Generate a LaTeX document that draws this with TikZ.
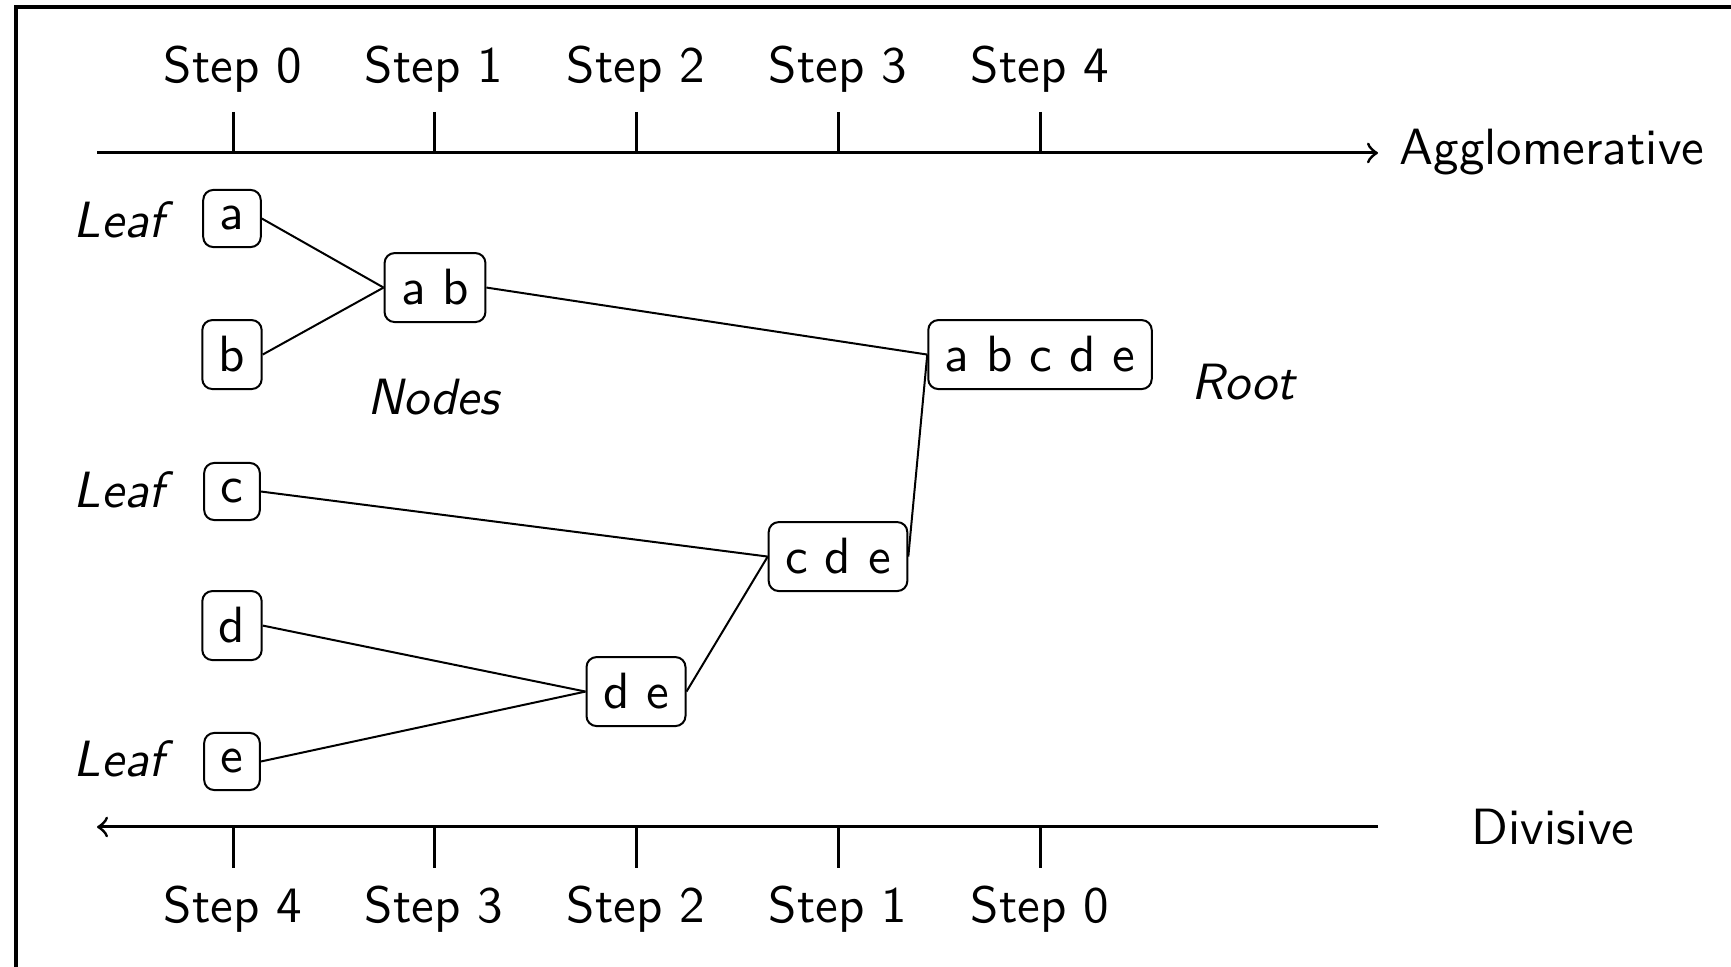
\documentclass[tikz,border=0pt]{standalone}
\usetikzlibrary{arrows}
\begin{document}
\begin{tikzpicture}[x=0.2pt,y=-0.2pt,
  every node/.style={font=\fontsize{10.2}{12}\selectfont\sffamily},
  clus/.style={draw, rounded corners=2pt, inner sep=3.3pt, line width=0.4pt},
  lbl/.style={font=\fontsize{10.2}{12}\selectfont\sffamily\itshape, anchor=base},
  steplbl/.style={anchor=base},
  axis/.style={line width=0.6pt},
  tick/.style={line width=0.6pt},
  link/.style={line width=0.4pt}]
\useasboundingbox (0,0) rectangle (1731,967);
% frame (top and left visible)
\draw[line width=0.7pt] (16,975) -- (16,7) -- (1740,7);
% axes
\coordinate (t0) at (97,153);
\coordinate (t1) at (1378,153);
\coordinate (b0) at (1378,827);
\coordinate (b1) at (97,827);
\draw[axis,->] (t0) -- (t1);
\draw[axis,->] (b0) -- (b1);
\node[anchor=base west] (agg) at (1382,165) {Agglomerative};
\node[anchor=base] (div) at (1553,845) {Divisive};
% ticks and step labels
\foreach \x/\i/\j in {233/0/4, 434/1/3, 636/2/2, 838/3/1, 1040/4/0}{
  \coordinate (tt\i) at (\x,112);
  \coordinate (tb\i) at (\x,153);
  \draw[tick] (tt\i) -- (tb\i);
  \node[steplbl] (st\i) at (\x,83) {Step \i};
  \coordinate (bt\i) at (\x,827);
  \coordinate (bb\i) at (\x,868);
  \draw[tick] (bt\i) -- (bb\i);
  \node[steplbl] (sb\i) at (\x,923) {Step \j};
}
% leaves
\node[clus, anchor=base] (a) at (232,230) {a};
\node[clus, anchor=base] (b) at (232,372) {b};
\node[clus, anchor=base] (c) at (232,503) {c};
\node[clus, anchor=base] (d) at (232,643) {d};
\node[clus, anchor=base] (e) at (232,773) {e};
% clusters
\node[clus, anchor=base] (ab) at (435,305) {a b};
\node[clus, anchor=base] (de) at (636,709) {d e};
\node[clus, anchor=base] (cde) at (838,574) {c d e};
\node[clus, anchor=base] (abcde) at (1040,372) {a b c d e};
% labels
\node[lbl] (leafa) at (119,238) {Leaf};
\node[lbl] (leafc) at (119,508) {Leaf};
\node[lbl] (leafe) at (119,777) {Leaf};
\node[lbl] (nodes) at (433,415) {Nodes};
\node[lbl] (root) at (1243,400) {Root};
% links
\draw[link] (a.east) -- (ab.west);
\draw[link] (b.east) -- (ab.west);
\draw[link] (ab.east) -- (abcde.west);
\draw[link] (c.east) -- (cde.west);
\draw[link] (d.east) -- (de.west);
\draw[link] (e.east) -- (de.west);
\draw[link] (de.east) -- (cde.west);
\draw[link] (cde.east) -- (abcde.west);
\end{tikzpicture}
\end{document}
